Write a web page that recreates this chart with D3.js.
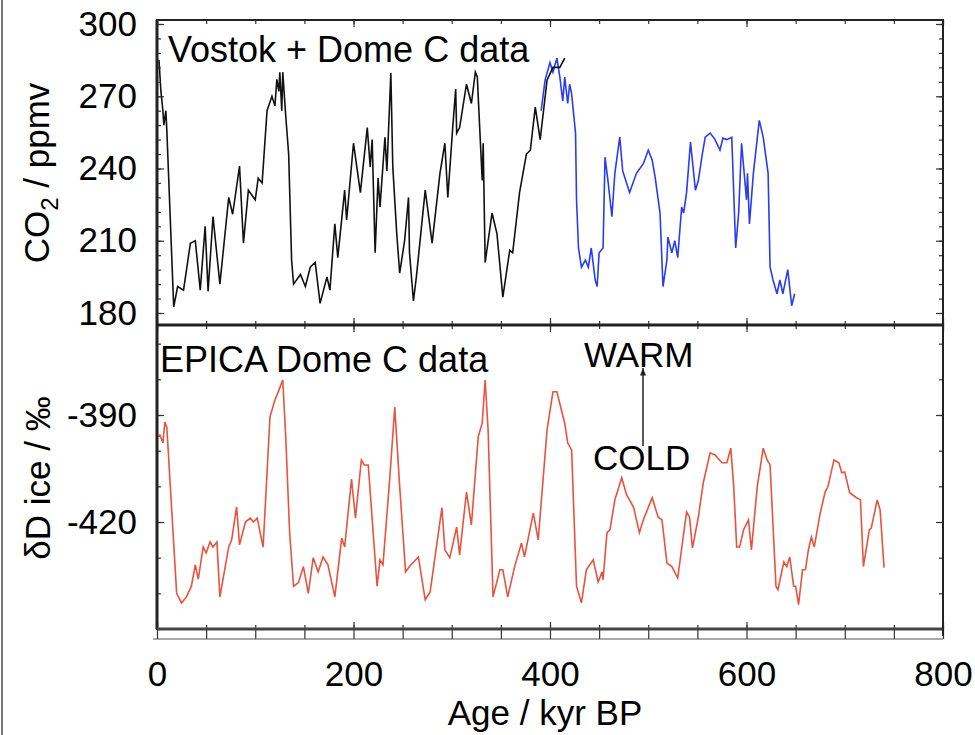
<!DOCTYPE html>
<html>
<head>
<meta charset="utf-8">
<script src="https://cdn.jsdelivr.net/npm/d3@7"></script>
<style>
  body { margin: 0; background: #fff; }
  text { font-family: "Liberation Sans", Arial, sans-serif; fill: #000; }
</style>
</head>
<body>
<script>
var w = 975;
var h = 735;

// CO2 - Vostok (black)
var vostokAge = [2, 4, 6, 7, 9, 10, 12, 17, 21, 27, 34, 39, 44, 49, 52, 57, 64, 73, 77, 84, 88, 93, 100, 103, 107, 112, 117, 120, 122, 124, 125, 127, 128, 131, 134, 137, 139, 146, 151, 156, 161, 166, 173, 176, 181, 184, 191, 193, 200, 207, 214, 217, 219, 222, 225, 227, 232, 234, 238, 240, 244, 247, 252, 256, 257, 261, 264, 273, 280, 288, 293, 296, 301, 304, 305, 308, 315, 320, 324, 326, 331, 332, 334, 341, 346, 352, 359, 362, 369, 376, 380, 385, 390, 397, 403, 410, 415];
var vostokCO2 = [285, 272, 264, 258, 264, 256, 235, 182.5, 191, 189.5, 209, 210, 189.5, 216, 189, 220, 192, 228, 221, 241, 209, 231, 227, 236, 234, 264, 270, 266, 277, 272, 280, 264, 280, 262, 246, 202, 192, 196, 191, 199, 201, 184, 195, 189.5, 217, 203, 231, 218.6, 250.5, 230, 257, 240.6, 252, 205, 236, 224, 253, 239, 279.6, 240.6, 213, 196.6, 210, 228, 205, 185, 195, 231, 209, 238, 250.5, 228, 257, 273, 254.7, 257, 275, 267, 280, 278, 235, 250.5, 201, 221.5, 213, 186.6, 206, 205, 230, 246, 247.6, 265.5, 252, 276.7, 282, 282, 285.8];

// CO2 - Dome C (blue)
var domeCAge = [391, 395, 400, 403, 407, 410, 413, 415, 418, 420, 422, 426, 427, 429, 432, 436, 439, 442, 446, 448, 450, 454, 456, 459, 463, 466, 471, 474, 481, 488, 495, 500, 504, 507, 512, 515, 519, 520, 524, 527, 530, 534, 536, 539, 543, 548, 551, 555, 558, 563, 568, 573, 576, 580, 585, 589, 592, 595, 600, 601, 603, 607, 613, 617, 622, 624, 627, 631, 634, 637, 642, 646, 649];
var domeCCO2 = [264, 276.7, 284, 280, 285.8, 278, 268, 278, 267, 275, 271, 254.7, 227, 207, 199, 202, 199, 207, 193.7, 191, 205, 207, 244.7, 235, 220, 238, 253, 239, 230, 238, 242, 247.6, 243.5, 236.4, 221.5, 191, 202, 211.5, 205, 210, 203, 224, 221.5, 230, 251, 231, 235, 246, 253, 254.7, 252, 247.6, 252.6, 252, 253, 207, 221.5, 250.5, 227, 238, 217, 238, 260, 253, 238, 199, 193.7, 188, 193.7, 188, 198, 183, 188];

// deltaD - EPICA Dome C (red)
var epicaAge = [1, 3, 6, 8, 10, 20, 25, 30, 35, 39, 42, 47, 50, 54, 57, 61, 64, 73, 76, 81, 84, 90, 95, 98, 102, 105, 108, 115, 120, 123, 128, 131, 135, 139, 144, 149, 154, 159, 164, 169, 174, 181, 188, 191, 198, 202, 208, 211, 215, 224, 227, 230, 237, 242, 247, 253, 257, 266, 273, 278, 290, 293, 298, 305, 308, 315, 320, 327, 331, 334, 337, 342, 349, 352, 357, 364, 371, 374, 383, 388, 397, 403, 407, 415, 418, 422, 427, 432, 437, 444, 449, 453, 454, 458, 461, 466, 473, 478, 485, 491, 495, 504, 510, 514, 519, 524, 530, 539, 542, 545, 551, 556, 563, 568, 575, 580, 584, 587, 590, 593, 597, 602, 605, 611, 617, 621, 624, 630, 632, 638, 641, 644, 648, 650, 653, 657, 660, 663, 666, 669, 675, 680, 683, 689, 694, 697, 700, 705, 712, 716, 719, 725, 727, 733, 736, 740];
var epicaDD = [-396, -395.6, -397.8, -392, -393.4, -440, -442.7, -441, -438, -432, -436, -427, -428.7, -425.6, -427, -425.6, -441, -427, -425, -415.8, -426.4, -420, -418.9, -420, -418.9, -423, -427, -390.5, -385.8, -383.8, -380.2, -396, -423, -438, -437, -432.5, -440, -430, -434, -429.8, -432, -441, -424.5, -427, -408, -418.9, -402.6, -404, -404, -438, -430.6, -432, -407.4, -387.8, -410, -434, -432.5, -429.8, -441.8, -439.6, -416, -427.8, -430, -421.4, -429.2, -411.6, -420.8, -396, -392.3, -380.2, -394.2, -441, -433.4, -433.4, -441, -432.5, -425.9, -429.8, -417.5, -425, -394.2, -383.5, -383.5, -392.3, -397.8, -399.8, -438, -442.7, -433.4, -430.6, -436.8, -434, -436.2, -423, -422.2, -413.8, -407.6, -412.4, -415.8, -423, -419.4, -413.2, -418.6, -419.4, -431.5, -432.5, -435.7, -417.2, -418.6, -427.3, -418.6, -409, -400.6, -401.2, -403.4, -403.4, -399.3, -410, -427, -427, -422.2, -419.4, -427.8, -410, -399.3, -402.6, -404, -438, -439, -431.2, -432.5, -429.8, -438, -438, -443.2, -433.4, -433.4, -427.8, -424.2, -427, -417.5, -411.6, -410, -402.6, -403.4, -406.2, -406, -411.8, -413.2, -413.8, -432.5, -422.2, -421.7, -413.8, -416.6, -432.8];

var xTicks = [0, 200, 400, 600, 800];
var co2Ticks = [180, 210, 240, 270, 300];
var dDTicks = [-390, -420];

var left = 157, right = 943, top1 = 20, mid = 325, bot = 629;

var x = d3.scaleLinear().domain([0, 800]).range([left, right]);
var yTop = d3.scaleLinear().domain([180, 300]).range([313, 24]);
var yBot = d3.scaleLinear().domain([-420, -390]).range([522, 415]);

var svg = d3.select('body').append('svg')
    .attr('width', w)
    .attr('height', h);

// border on the left of the picture
svg.append('line').attr('x1', 2).attr('x2', 2).attr('y1', 0).attr('y2', h)
    .attr('stroke', '#777').attr('stroke-width', 2);

var zip = function(a, b){
  return a.map(function(d, i){ return [d, b[i]]; });
};

// clip paths
svg.append('clipPath').attr('id', 'clipTop').append('rect')
    .attr('x', left).attr('y', top1).attr('width', right - left).attr('height', mid - top1);
svg.append('clipPath').attr('id', 'clipBot').append('rect')
    .attr('x', left).attr('y', mid).attr('width', right - left).attr('height', bot - mid);

var lineTop = d3.line().x(function(d){ return x(d[0]); }).y(function(d){ return yTop(d[1]); });
var lineBot = d3.line().x(function(d){ return x(d[0]); }).y(function(d){ return yBot(d[1]); });

svg.append('path').datum(zip(domeCAge, domeCCO2))
    .attr('clip-path', 'url(#clipTop)')
    .attr('d', lineTop).attr('fill', 'none').attr('stroke', '#2a3cf2').attr('stroke-width', 1.6);
svg.append('path').datum(zip(vostokAge, vostokCO2))
    .attr('clip-path', 'url(#clipTop)')
    .attr('d', lineTop).attr('fill', 'none').attr('stroke', '#111').attr('stroke-width', 1.6);
svg.append('path').datum(zip(epicaAge, epicaDD))
    .attr('clip-path', 'url(#clipBot)')
    .attr('d', lineBot).attr('fill', 'none').attr('stroke', '#e8533f').attr('stroke-width', 1.6);

// ticks helper
var minor = function(lo, hi, step){
  var out = [];
  for (var v = lo; v <= hi + 1e-9; v += step) out.push(+v.toFixed(3));
  return out;
};
var noLabel = function(){ return ''; };
var plain = function(d){ return String(d); };
var addAxis = function(axis, tx, ty){
  var g = svg.append('g').attr('transform', 'translate(' + tx + ',' + ty + ')').call(axis);
  g.select('.domain').remove();
  g.selectAll('line').attr('stroke', '#333').attr('stroke-width', 1.2);
  g.selectAll('text').style('font-size', '35px').attr('fill', '#000');
  return g;
};

// left axes (inward ticks)
addAxis(d3.axisLeft(yTop).tickValues(minor(180, 300, 6)).tickSize(-4).tickFormat(noLabel), left, 0);
addAxis(d3.axisLeft(yTop).tickValues(co2Ticks).tickSize(-7).tickPadding(20).tickFormat(plain), left, 0);
addAxis(d3.axisLeft(yBot).tickValues(minor(-450, -370, 10)).tickSize(-4).tickFormat(noLabel), left, 0);
addAxis(d3.axisLeft(yBot).tickValues(dDTicks).tickSize(-7).tickPadding(20).tickFormat(plain), left, 0);

// right axes
addAxis(d3.axisRight(yTop).tickValues(minor(180, 300, 6)).tickSize(-4).tickFormat(noLabel), right, 0);
addAxis(d3.axisRight(yTop).tickValues(co2Ticks).tickSize(-7).tickFormat(noLabel), right, 0);
addAxis(d3.axisRight(yBot).tickValues(minor(-450, -370, 10)).tickSize(-4).tickFormat(noLabel), right, 0);
addAxis(d3.axisRight(yBot).tickValues(dDTicks).tickSize(-7).tickFormat(noLabel), right, 0);

// horizontal axes
var xMinor = minor(0, 800, 50);
[top1, mid].forEach(function(yy){
  addAxis(d3.axisTop(x).tickValues(xMinor).tickSize(-4).tickFormat(noLabel), 0, yy);
  addAxis(d3.axisTop(x).tickValues(xTicks).tickSize(-7).tickFormat(noLabel), 0, yy);
});
addAxis(d3.axisBottom(x).tickValues(xMinor).tickSize(-4).tickFormat(noLabel), 0, mid);
addAxis(d3.axisBottom(x).tickValues(xTicks).tickSize(-7).tickFormat(noLabel), 0, mid);
addAxis(d3.axisBottom(x).tickValues(xMinor).tickSize(-4).tickFormat(noLabel), 0, bot);
addAxis(d3.axisBottom(x).tickValues(xTicks).tickSize(-7).tickPadding(32).tickFormat(plain), 0, bot);
addAxis(d3.axisBottom(x).tickValues(xMinor).tickSize(10).tickFormat(noLabel), 0, bot);

// frames
svg.append('rect').attr('x', left).attr('y', top1).attr('width', right - left).attr('height', bot - top1)
    .attr('fill', 'none').attr('stroke', '#222').attr('stroke-width', 2);
svg.append('line').attr('x1', left).attr('x2', right).attr('y1', mid).attr('y2', mid)
    .attr('stroke', '#222').attr('stroke-width', 3);
svg.append('line').attr('x1', left).attr('x2', left).attr('y1', top1).attr('y2', bot)
    .attr('stroke', '#222').attr('stroke-width', 3);
svg.append('line').attr('x1', left).attr('x2', right).attr('y1', bot).attr('y2', bot)
    .attr('stroke', '#444').attr('stroke-width', 3);
svg.append('line').attr('x1', right).attr('x2', right).attr('y1', top1).attr('y2', bot + 7)
    .attr('stroke', '#222').attr('stroke-width', 2);
svg.append('line').attr('x1', 153).attr('x2', right).attr('y1', bot + 10).attr('y2', bot + 10)
    .attr('stroke', '#555').attr('stroke-width', 1.2);

// texts
svg.append('text').attr('x', 168).attr('y', 62).style('font-size', '36px').text('Vostok + Dome C data');
svg.append('text').attr('x', 160).attr('y', 372).style('font-size', '36px').text('EPICA Dome C data');
svg.append('text').attr('x', 584).attr('y', 367).style('font-size', '35px').text('WARM');
svg.append('text').attr('x', 593).attr('y', 470).style('font-size', '35px').text('COLD');

svg.append('defs').append('marker').attr('id', 'arr')
    .attr('viewBox', '0 0 10 10').attr('refX', 10).attr('refY', 5)
    .attr('markerWidth', 5).attr('markerHeight', 5).attr('orient', 'auto')
  .append('path').attr('d', 'M0,1 L10,5 L0,9 Z').attr('fill', '#222');
svg.append('line').attr('x1', 643).attr('x2', 643).attr('y1', 446).attr('y2', 368)
    .attr('stroke', '#222').attr('stroke-width', 1.5).attr('marker-end', 'url(#arr)');

var co2Label = svg.append('text')
    .attr('transform', 'translate(49,173) rotate(-90)')
    .attr('text-anchor', 'middle').style('font-size', '35px');
co2Label.append('tspan').text('CO');
co2Label.append('tspan').attr('dy', 9).style('font-size', '24px').text('2');
co2Label.append('tspan').attr('dy', -9).text(' / ppmv');

svg.append('text')
    .attr('transform', 'translate(50,478) rotate(-90)')
    .attr('text-anchor', 'middle').style('font-size', '35px')
    .text('\u03b4D ice / \u2030');

svg.append('text').attr('x', 545).attr('y', 725).attr('text-anchor', 'middle')
    .style('font-size', '35px').text('Age / kyr BP');
</script>
</body>
</html>
